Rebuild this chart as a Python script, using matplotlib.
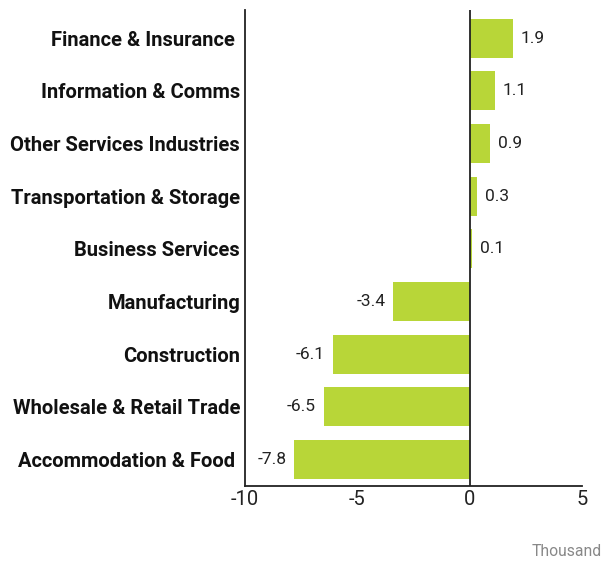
import matplotlib
matplotlib.use("Agg")
import matplotlib.pyplot as plt

categories = ["Finance & Insurance ", "Information & Comms", "Other Services Industries",
              "Transportation & Storage", "Business Services", "Manufacturing",
              "Construction", "Wholesale & Retail Trade", "Accommodation & Food "]
values = [1.9, 1.1, 0.9, 0.3, 0.1, -3.4, -6.1, -6.5, -7.8]
xticks = [-10, -5, 0, 5]
unit_label = "Thousand"

plt.rcParams['font.family'] = ['Roboto', 'DejaVu Sans']

fig = plt.figure(figsize=(6.03, 5.61), dpi=100)
ax = fig.add_axes([0.4063, 0.1337, 0.5597, 0.8483])

ypos = list(range(len(categories)))
ax.barh(ypos, values, height=0.74, color="#b8d638", zorder=2)
ax.set_ylim(8.5, -0.53)
ax.set_xlim(-10, 5)
ax.axvline(0, color="#222222", lw=1.3, zorder=3)

for y, v in zip(ypos, values):
    if v >= 0:
        ax.text(v + 0.35, y, f"{v:.1f}", va="center", ha="left", fontsize=12.5, color="#222222")
    else:
        ax.text(v - 0.35, y, f"{v:.1f}", va="center", ha="right", fontsize=12.5, color="#222222")

ax.set_yticks(ypos)
ax.set_yticklabels(categories, fontsize=14.5, fontweight="bold", color="#111111")
ax.set_xticks(xticks)
ax.set_xticklabels([str(t) for t in xticks], fontsize=14.5, color="#222222")
ax.tick_params(axis="both", length=0)
ax.tick_params(axis="y", pad=3.5)
ax.tick_params(axis="x", pad=3)

for s in ["top", "right"]:
    ax.spines[s].set_visible(False)
for s in ["left", "bottom"]:
    ax.spines[s].set_color("#222222")
    ax.spines[s].set_linewidth(1.3)

fig.text(0.998, 0.004, unit_label, ha="right", va="bottom", fontsize=11.3, color="#888888")

fig.savefig("out.png", dpi=100)
